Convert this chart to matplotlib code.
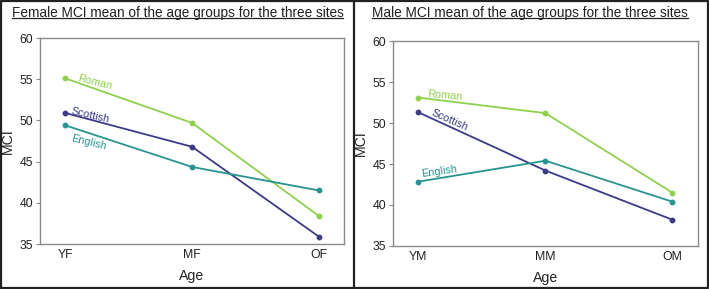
import matplotlib.pyplot as plt
from matplotlib.lines import Line2D

plt.rcParams["font.family"] = ["Liberation Sans", "DejaVu Sans"]

female_groups = ["YF", "MF", "OF"]
male_groups = ["YM", "MM", "OM"]
sites = ["Roman", "Scottish", "English"]

female_roman = [55.1, 49.7, 38.4]
female_scottish = [50.9, 46.8, 35.9]
female_english = [49.4, 44.35, 41.5]

male_roman = [53.1, 51.2, 41.5]
male_scottish = [51.3, 44.2, 38.2]
male_english = [42.85, 45.4, 40.4]

colors = {"Roman": "#8ed24c", "Scottish": "#3d3a8c", "English": "#27958f"}
SPINE = "#8a8a8a"
INK = "#222222"

fig = plt.figure(figsize=(7.09, 2.89), dpi=100)


def draw_panel(rect, groups, series, title, title_x, labels):
    ax = fig.add_axes(rect)
    x = range(len(groups))
    for name, vals in zip(sites, series):
        ax.plot(x, vals, color=colors[name], lw=1.3, marker="o", ms=3.2, zorder=3)
    for name, (lx, ly, rot) in labels.items():
        ax.text(lx, ly, name, color=colors[name], fontsize=7.8, rotation=rot,
                rotation_mode="anchor", ha="left", va="bottom")
    ax.set_xlim(-0.2, 2.2)
    ax.set_ylim(35, 60)
    ax.set_yticks([35, 40, 45, 50, 55, 60])
    ax.set_xticks(list(x))
    ax.set_xticklabels(groups)
    ax.tick_params(axis="x", length=0, labelsize=8.8, pad=3.5, colors=INK)
    ax.tick_params(axis="y", length=3, width=0.8, color=SPINE, labelsize=8.8,
                   pad=2, labelcolor=INK)
    for s in ax.spines.values():
        s.set_color(SPINE)
        s.set_linewidth(1.0)
    ax.set_xlabel("Age", fontsize=10.2, labelpad=6, color=INK)
    ax.set_ylabel("MCI", fontsize=10.2, labelpad=3, color=INK)
    t = fig.text(title_x, 0.955, title, ha="center", va="center", fontsize=9.8,
                 color=INK)
    return ax, t


axl, tl = draw_panel([0.0564, 0.1557, 0.429, 0.7128], female_groups,
                     [female_roman, female_scottish, female_english],
                     "Female MCI mean of the age groups for the three sites", 0.2503,
                     {"Roman": (0.09, 54.6, -14), "Scottish": (0.04, 50.5, -13),
                      "English": (0.04, 47.3, -14)})
axr, tr = draw_panel([0.5543, 0.1488, 0.430, 0.7093], male_groups,
                     [male_roman, male_scottish, male_english],
                     "Male MCI mean of the age groups for the three sites", 0.7475,
                     {"Roman": (0.07, 52.95, -5), "Scottish": (0.09, 50.7, -24),
                      "English": (0.03, 43.2, 8)})

# underline titles
fig.canvas.draw()
r = fig.canvas.get_renderer()
inv = fig.transFigure.inverted()
for t in (tl, tr):
    bb = t.get_window_extent(r)
    (x0, y0), (x1, y1) = inv.transform([(bb.x0, bb.y0), (bb.x1, bb.y1)])
    fig.add_artist(Line2D([x0, x1], [y0 + 0.008, y0 + 0.008], transform=fig.transFigure,
                          color=INK, lw=0.9))

# frame and divider
frame = dict(transform=fig.transFigure, color=INK, lw=1.6)
fig.add_artist(Line2D([0.001, 0.999, 0.999, 0.001, 0.001],
                      [0.002, 0.002, 0.998, 0.998, 0.002], **frame))
fig.add_artist(Line2D([0.4993, 0.4993], [0.0, 1.0], **frame))

fig.savefig("out.png", dpi=100)
